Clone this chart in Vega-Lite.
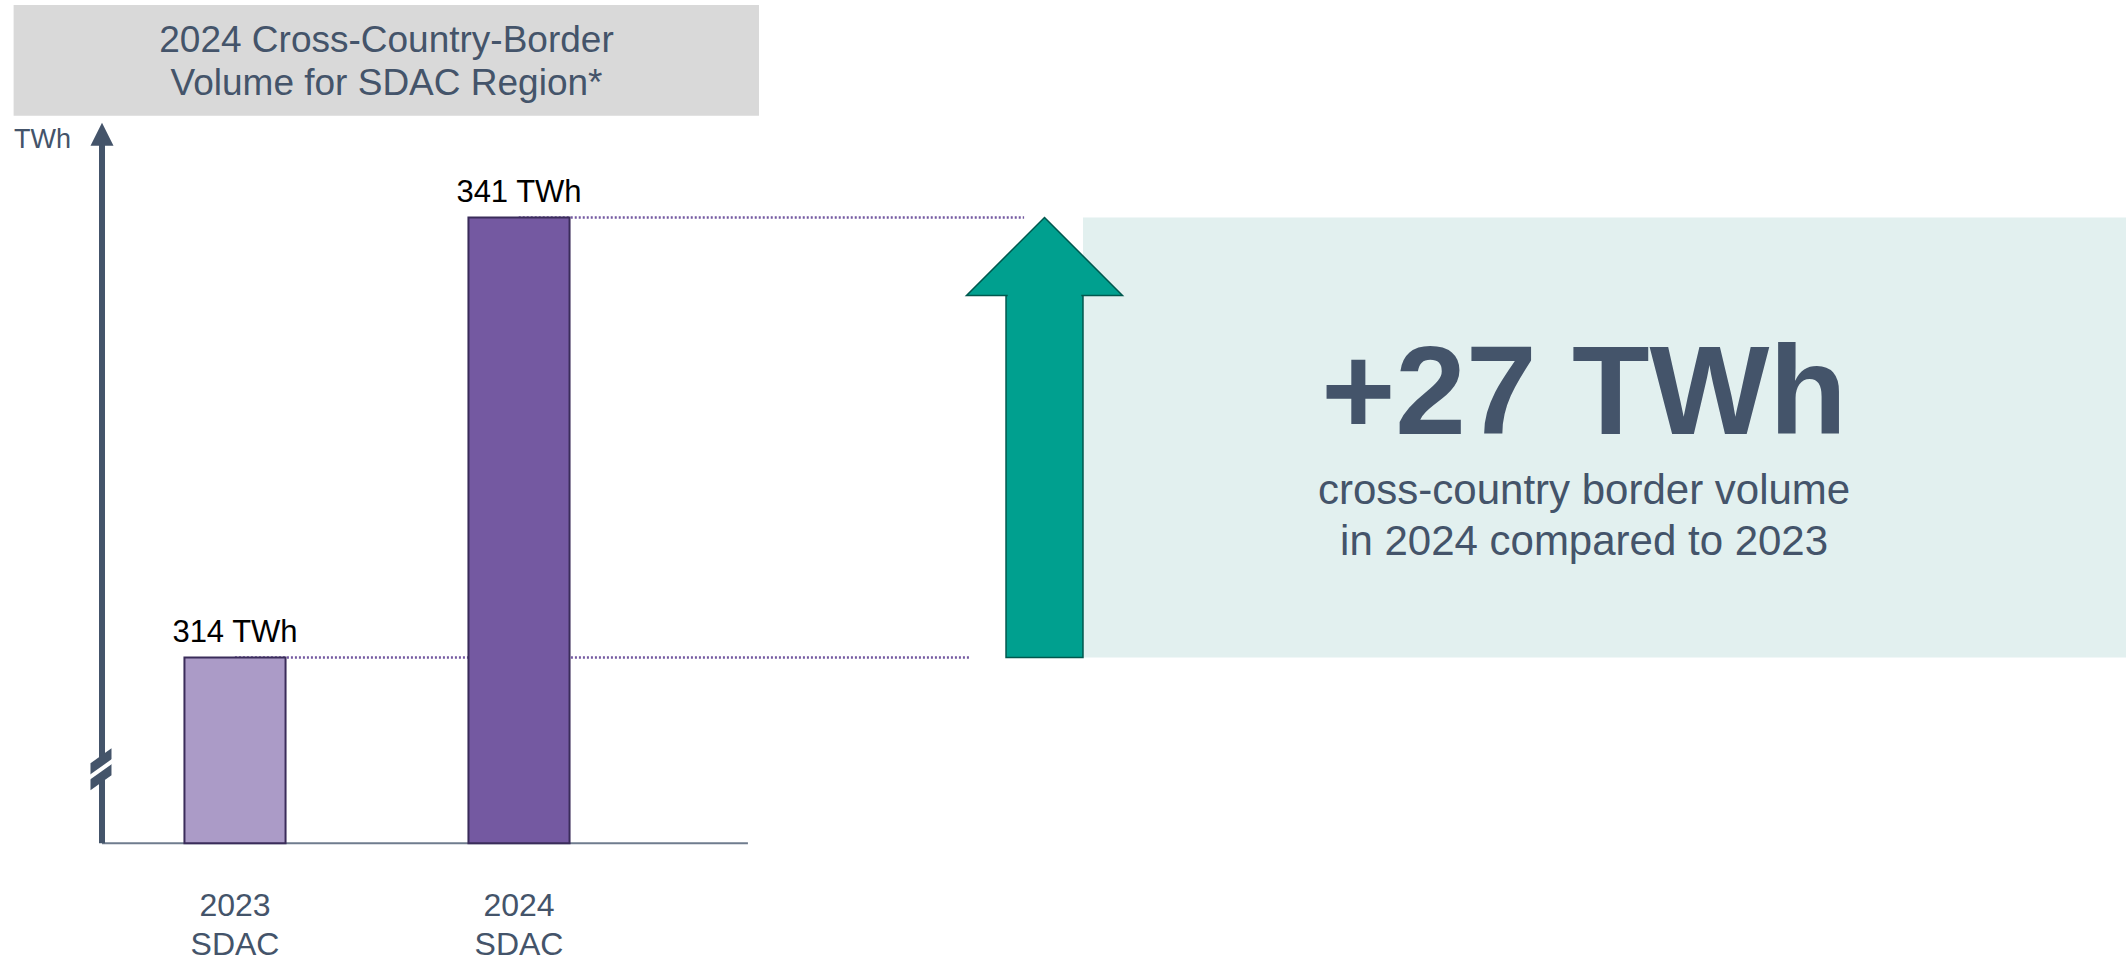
{
  "$schema": "https://vega.github.io/schema/vega-lite/v6.json",
  "width": 2126,
  "height": 961,
  "autosize": {"type": "fit", "contains": "padding"},
  "padding": 0,
  "background": "white",
  "config": {"view": {"stroke": null}, "axis": {"disable": true}, "font": "Liberation Sans"},
  "resolve": {"scale": {"x": "independent"}},
  "layer": [
    {
      "data": {"values": [{}]},
      "layer": [
        {
          "mark": {"type": "rect", "color": "#D9D9D9"},
          "encoding": {
            "x": {"datum": 0.64, "type": "quantitative", "scale": {"domain": [0, 100], "nice": false, "zero": false}, "axis": null},
            "x2": {"datum": 35.7},
            "y": {"datum": 354.04, "type": "quantitative", "scale": {"domain": [295.5, 354.35], "nice": false, "zero": false}, "axis": null},
            "y2": {"datum": 347.25}
          }
        },
        {
          "mark": {"type": "rect", "color": "#E2F0EF"},
          "encoding": {
            "x": {"datum": 50.94, "type": "quantitative", "scale": {"domain": [0, 100], "nice": false, "zero": false}, "axis": null},
            "x2": {"datum": 100},
            "y": {"datum": 341, "type": "quantitative", "scale": {"domain": [295.5, 354.35], "nice": false, "zero": false}, "axis": null},
            "y2": {"datum": 314}
          }
        },
        {
          "mark": {"type": "rule", "color": "#7459A1", "strokeWidth": 2.5, "strokeDash": [2, 2]},
          "encoding": {
            "x": {"datum": 24.4, "type": "quantitative", "scale": {"domain": [0, 100], "nice": false, "zero": false}, "axis": null},
            "x2": {"datum": 48.17},
            "y": {"datum": 341, "type": "quantitative", "scale": {"domain": [295.5, 354.35], "nice": false, "zero": false}, "axis": null}
          }
        },
        {
          "mark": {"type": "rule", "color": "#7459A1", "strokeWidth": 2.5, "strokeDash": [2, 2]},
          "encoding": {
            "x": {"datum": 11.05, "type": "quantitative", "scale": {"domain": [0, 100], "nice": false, "zero": false}, "axis": null},
            "x2": {"datum": 45.58},
            "y": {"datum": 314, "type": "quantitative", "scale": {"domain": [295.5, 354.35], "nice": false, "zero": false}, "axis": null}
          }
        },
        {
          "mark": {"type": "rule", "color": "#6F7C8E", "strokeWidth": 2},
          "encoding": {
            "x": {"datum": 4.798, "type": "quantitative", "scale": {"domain": [0, 100], "nice": false, "zero": false}, "axis": null},
            "x2": {"datum": 35.18},
            "y": {"datum": 302.6, "type": "quantitative", "scale": {"domain": [295.5, 354.35], "nice": false, "zero": false}, "axis": null}
          }
        },
        {
          "mark": {"type": "rule", "color": "#44546A", "strokeWidth": 6},
          "encoding": {
            "x": {"datum": 4.798, "type": "quantitative", "scale": {"domain": [0, 100], "nice": false, "zero": false}, "axis": null},
            "y": {"datum": 302.6, "type": "quantitative", "scale": {"domain": [295.5, 354.35], "nice": false, "zero": false}, "axis": null},
            "y2": {"datum": 345.6}
          }
        }
      ]
    },
    {
      "data": {"values": [
        {"year": "2023", "market": "SDAC", "volume": 314},
        {"year": "2024", "market": "SDAC", "volume": 341}
      ]},
      "transform": [{"calculate": "datum.volume + ' TWh'", "as": "label"}],
      "layer": [
        {
          "mark": {"type": "bar", "stroke": "#3A2C5A", "strokeWidth": 2},
          "encoding": {
            "x": {"field": "year", "type": "nominal", "scale": {"type": "band", "domain": ["2023", "2024"], "range": [93, 661], "paddingInner": 0.644, "paddingOuter": 0.322}, "axis": null},
            "y": {"field": "volume", "type": "quantitative", "scale": {"domain": [295.5, 354.35], "nice": false, "zero": false}, "axis": null},
            "y2": {"datum": 302.6},
            "color": {"field": "year", "type": "nominal", "scale": {"domain": ["2023", "2024"], "range": ["#AB9BC7", "#7459A1"]}, "legend": null}
          }
        },
        {
          "mark": {"type": "text", "fontSize": 31, "color": "#000000", "baseline": "alphabetic", "align": "center", "dy": -16},
          "encoding": {
            "x": {"field": "year", "type": "nominal", "scale": {"type": "band", "domain": ["2023", "2024"], "range": [93, 661], "paddingInner": 0.644, "paddingOuter": 0.322}, "axis": null},
            "y": {"field": "volume", "type": "quantitative", "scale": {"domain": [295.5, 354.35], "nice": false, "zero": false}, "axis": null},
            "text": {"field": "label"}
          }
        },
        {
          "mark": {"type": "text", "fontSize": 32, "color": "#44546A", "baseline": "alphabetic", "align": "center"},
          "encoding": {
            "x": {"field": "year", "type": "nominal", "scale": {"type": "band", "domain": ["2023", "2024"], "range": [93, 661], "paddingInner": 0.644, "paddingOuter": 0.322}, "axis": null},
            "y": {"datum": 298.13, "type": "quantitative", "scale": {"domain": [295.5, 354.35], "nice": false, "zero": false}, "axis": null},
            "text": {"field": "year"}
          }
        },
        {
          "mark": {"type": "text", "fontSize": 32, "color": "#44546A", "baseline": "alphabetic", "align": "center"},
          "encoding": {
            "x": {"field": "year", "type": "nominal", "scale": {"type": "band", "domain": ["2023", "2024"], "range": [93, 661], "paddingInner": 0.644, "paddingOuter": 0.322}, "axis": null},
            "y": {"datum": 295.75, "type": "quantitative", "scale": {"domain": [295.5, 354.35], "nice": false, "zero": false}, "axis": null},
            "text": {"field": "market"}
          }
        }
      ]
    },
    {
      "data": {"values": [{}]},
      "layer": [
        {
          "mark": {"type": "point", "shape": "M0,-1L1,1L-1,1Z", "size": 529, "filled": true, "opacity": 1, "color": "#44546A", "strokeWidth": 0},
          "encoding": {
            "x": {"datum": 4.798, "type": "quantitative", "scale": {"domain": [0, 100], "nice": false, "zero": false}, "axis": null},
            "y": {"datum": 346.11, "type": "quantitative", "scale": {"domain": [295.5, 354.35], "nice": false, "zero": false}, "axis": null}
          }
        },
        {
          "mark": {"type": "point", "shape": "M-0.5,-0.286L0.5,-1L0.5,0.286L-0.5,1Z", "size": 1764, "filled": true, "opacity": 1, "color": "#44546A", "strokeWidth": 0},
          "encoding": {
            "x": {"datum": 4.75, "type": "quantitative", "scale": {"domain": [0, 100], "nice": false, "zero": false}, "axis": null},
            "y": {"datum": 307.14, "type": "quantitative", "scale": {"domain": [295.5, 354.35], "nice": false, "zero": false}, "axis": null}
          }
        },
        {
          "mark": {"type": "point", "shape": "M-0.7,0.381L0.7,-0.619L0.7,-0.381L-0.7,0.619Z", "size": 1764, "filled": true, "opacity": 1, "color": "#FFFFFF", "strokeWidth": 0},
          "encoding": {
            "x": {"datum": 4.75, "type": "quantitative", "scale": {"domain": [0, 100], "nice": false, "zero": false}, "axis": null},
            "y": {"datum": 307.14, "type": "quantitative", "scale": {"domain": [295.5, 354.35], "nice": false, "zero": false}, "axis": null}
          }
        },
        {
          "mark": {"type": "rect", "color": "#00A08F", "stroke": "#00584E", "strokeWidth": 1.5},
          "encoding": {
            "x": {"datum": 47.32, "type": "quantitative", "scale": {"domain": [0, 100], "nice": false, "zero": false}, "axis": null},
            "x2": {"datum": 50.94},
            "y": {"datum": 314, "type": "quantitative", "scale": {"domain": [295.5, 354.35], "nice": false, "zero": false}, "axis": null},
            "y2": {"datum": 336.5}
          }
        },
        {
          "mark": {"type": "point", "shape": "M0,-0.5L1,0.5L-1,0.5Z", "size": 24336, "filled": true, "opacity": 1, "color": "#00A08F", "stroke": "#00584E", "strokeWidth": 1.5},
          "encoding": {
            "x": {"datum": 49.13, "type": "quantitative", "scale": {"domain": [0, 100], "nice": false, "zero": false}, "axis": null},
            "y": {"datum": 338.61, "type": "quantitative", "scale": {"domain": [295.5, 354.35], "nice": false, "zero": false}, "axis": null}
          }
        },
        {
          "mark": {"type": "rect", "color": "#00A08F", "strokeWidth": 0},
          "encoding": {
            "x": {"datum": 47.40, "type": "quantitative", "scale": {"domain": [0, 100], "nice": false, "zero": false}, "axis": null},
            "x2": {"datum": 50.86},
            "y": {"datum": 335.9, "type": "quantitative", "scale": {"domain": [295.5, 354.35], "nice": false, "zero": false}, "axis": null},
            "y2": {"datum": 336.6}
          }
        },
        {
          "mark": {"type": "text", "text": "2024 Cross-Country-Border", "fontSize": 37, "color": "#44546A", "align": "center", "baseline": "alphabetic"},
          "encoding": {
            "x": {"datum": 18.18, "type": "quantitative", "scale": {"domain": [0, 100], "nice": false, "zero": false}, "axis": null},
            "y": {"datum": 351.17, "type": "quantitative", "scale": {"domain": [295.5, 354.35], "nice": false, "zero": false}, "axis": null}
          }
        },
        {
          "mark": {"type": "text", "text": "Volume for SDAC Region*", "fontSize": 37, "color": "#44546A", "align": "center", "baseline": "alphabetic"},
          "encoding": {
            "x": {"datum": 18.18, "type": "quantitative", "scale": {"domain": [0, 100], "nice": false, "zero": false}, "axis": null},
            "y": {"datum": 348.5, "type": "quantitative", "scale": {"domain": [295.5, 354.35], "nice": false, "zero": false}, "axis": null}
          }
        },
        {
          "mark": {"type": "text", "text": "TWh", "fontSize": 27, "color": "#44546A", "align": "left", "baseline": "alphabetic"},
          "encoding": {
            "x": {"datum": 0.66, "type": "quantitative", "scale": {"domain": [0, 100], "nice": false, "zero": false}, "axis": null},
            "y": {"datum": 345.29, "type": "quantitative", "scale": {"domain": [295.5, 354.35], "nice": false, "zero": false}, "axis": null}
          }
        },
        {
          "mark": {"type": "text", "text": "+27 TWh", "fontSize": 127, "fontWeight": "bold", "color": "#44546A", "align": "center", "baseline": "alphabetic"},
          "encoding": {
            "x": {"datum": 74.51, "type": "quantitative", "scale": {"domain": [0, 100], "nice": false, "zero": false}, "axis": null},
            "y": {"datum": 327.71, "type": "quantitative", "scale": {"domain": [295.5, 354.35], "nice": false, "zero": false}, "axis": null}
          }
        },
        {
          "mark": {"type": "text", "text": "cross-country border volume", "fontSize": 42, "color": "#44546A", "align": "center", "baseline": "alphabetic"},
          "encoding": {
            "x": {"datum": 74.51, "type": "quantitative", "scale": {"domain": [0, 100], "nice": false, "zero": false}, "axis": null},
            "y": {"datum": 323.43, "type": "quantitative", "scale": {"domain": [295.5, 354.35], "nice": false, "zero": false}, "axis": null}
          }
        },
        {
          "mark": {"type": "text", "text": "in 2024 compared to 2023", "fontSize": 42, "color": "#44546A", "align": "center", "baseline": "alphabetic"},
          "encoding": {
            "x": {"datum": 74.51, "type": "quantitative", "scale": {"domain": [0, 100], "nice": false, "zero": false}, "axis": null},
            "y": {"datum": 320.3, "type": "quantitative", "scale": {"domain": [295.5, 354.35], "nice": false, "zero": false}, "axis": null}
          }
        }
      ]
    }
  ]
}
